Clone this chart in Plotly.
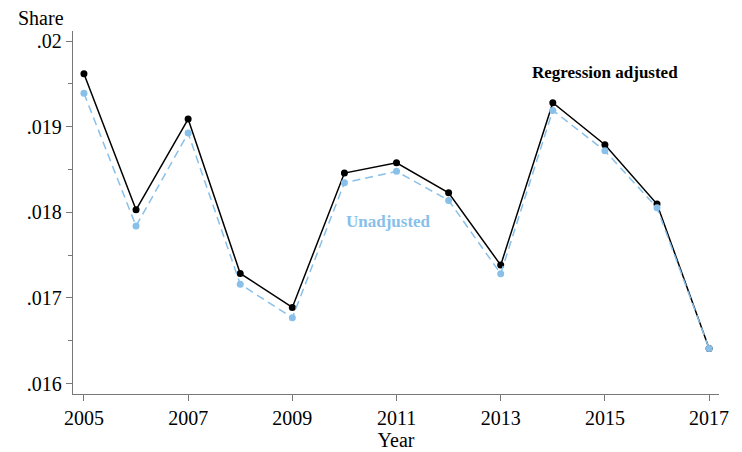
import plotly.graph_objects as go

years = [2005, 2006, 2007, 2008, 2009, 2010, 2011, 2012, 2013, 2014, 2015, 2016, 2017]
adjusted = [0.019618, 0.018029, 0.019089, 0.017286, 0.016889, 0.018458, 0.018578,
            0.018228, 0.017383, 0.019279, 0.018789, 0.018096, 0.016410]
unadjusted = [0.019389, 0.017839, 0.018925, 0.017161, 0.016768, 0.018345, 0.018478,
              0.018139, 0.017282, 0.019190, 0.018718, 0.018053, 0.016410]
x_ticks = [2005, 2007, 2009, 2011, 2013, 2015, 2017]
y_ticks = [0.016, 0.017, 0.018, 0.019, 0.020]
y_tick_labels = [".016", ".017", ".018", ".019", ".02"]

BLUE = "#88C0EA"
FONT = "Liberation Serif"

fig = go.Figure()
fig.add_trace(go.Scatter(x=years, y=adjusted, mode="lines+markers",
                         line=dict(color="black", width=1.5),
                         marker=dict(color="black", size=7), showlegend=False))
fig.add_trace(go.Scatter(x=years, y=unadjusted, mode="lines+markers",
                         line=dict(color=BLUE, width=1.5, dash="8px,5px"),
                         marker=dict(color=BLUE, size=7), showlegend=False))

fig.add_annotation(x=2015, y=0.019638, text="<b>Regression adjusted</b>", showarrow=False,
                   font=dict(family=FONT, size=17, color="black"))
fig.add_annotation(x=2010.85, y=0.017889, text="<b>Unadjusted</b>", showarrow=False,
                   font=dict(family=FONT, size=17, color=BLUE))

fig.update_layout(
    width=734, height=444,
    margin=dict(l=65, r=23, t=23, b=58),
    paper_bgcolor="white", plot_bgcolor="white",
    font=dict(family=FONT, size=20, color="black"),
    xaxis=dict(range=[2004.79, 2017.19], tickvals=x_ticks, ticks="outside", ticklen=6,
               tickcolor="#777", showline=True, linecolor="#777", linewidth=1.3,
               showgrid=False, zeroline=False, automargin=False,
               title=dict(text="Year", standoff=4, font=dict(size=20))),
    yaxis=dict(range=[0.015878, 0.020117], tickvals=y_ticks, ticktext=y_tick_labels,
               ticks="outside", ticklen=6, tickcolor="#777", showline=True,
               linecolor="#777", linewidth=1.3, showgrid=False, zeroline=False,
               automargin=False,
               minor=dict(dtick=0.0005, tick0=0.0155, ticks="outside", ticklen=4,
                          tickcolor="#777", showgrid=False)),
)
fig.add_annotation(xref="paper", yref="paper", x=-0.088, y=1.0, xanchor="left",
                   yanchor="bottom", text="Share", showarrow=False,
                   font=dict(family=FONT, size=20))

fig.write_html("out.html")
